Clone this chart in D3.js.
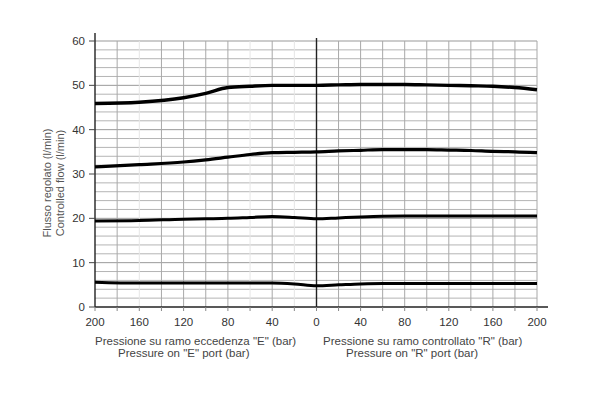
<!DOCTYPE html>
<html><head><meta charset="utf-8">
<script src="https://cdn.jsdelivr.net/npm/d3@7"></script>
<style>
html,body{margin:0;padding:0;background:#fff;}
svg text{font-family:"Liberation Sans",Arial,Helvetica,sans-serif;}
</style></head>
<body><svg id="c" width="600" height="398"></svg>
<script>
// ---- data ----
const leftP  = [200,160,120,100,80,60,40,20,0];
const rightP = [0,20,40,60,80,100,120,140,160,180,200];
const s50L = [45.9,46.2,47.2,48.2,49.5,49.8,50.0,50.0,50.0];
const s50R = [50.0,50.1,50.2,50.2,50.2,50.1,50.0,49.9,49.8,49.5,49.0];
const s35L = [31.6,32.1,32.7,33.2,33.8,34.4,34.8,34.9,35.0];
const s35R = [35.0,35.2,35.35,35.5,35.5,35.5,35.4,35.3,35.1,35.0,34.8];
const s20L = [19.4,19.5,19.8,19.9,20.0,20.2,20.4,20.2,19.9];
const s20R = [19.9,20.1,20.3,20.45,20.5,20.5,20.5,20.5,20.5,20.5,20.5];
const s5L  = [5.6,5.4,5.4,5.4,5.4,5.4,5.4,5.2,4.8];
const s5R  = [4.8,5.0,5.2,5.3,5.3,5.3,5.3,5.3,5.3,5.3,5.3];
const yTicks = [0,10,20,30,40,50,60];
const xTickLabelsL = [200,160,120,80,40,0];
const xTickLabelsR = [40,80,120,160,200];
const yTitle = ["Flusso regolato (l/min)","Controlled flow (l/min)"];
const xTitleL = ["Pressione su ramo eccedenza \"E\" (bar)","Pressure on \"E\" port (bar)"];
const xTitleR = ["Pressione su ramo controllato \"R\" (bar)","Pressure on \"R\" port (bar)"];

// ---- scales ----
const svg = d3.select("#c");
const X0 = 95, XM = 316.5, X1 = 537;
const xL = d3.scaleLinear().domain([200,0]).range([X0,XM]);
const xR = d3.scaleLinear().domain([0,200]).range([XM,X1]);
const y = d3.scaleLinear().domain([0,60]).range([307,41]);

// grid horizontal every 2
const g = svg.append("g");
d3.range(2,61,2).forEach(v=>{
  g.append("line").attr("x1",X0).attr("x2",X1).attr("y1",y(v)).attr("y2",y(v))
   .attr("stroke", v%10===0 ? "#999" : "#b4b4b4").attr("stroke-width",1);
});
// vertical grid
const faintL = [160,60,20];
d3.range(20,200,20).forEach(v=>{
  g.append("line").attr("x1",xL(v)).attr("x2",xL(v)).attr("y1",y(60)).attr("y2",y(0))
   .attr("stroke", faintL.includes(v) ? "#e6e6e6" : "#a8a8a8").attr("stroke-width",1);
  g.append("line").attr("x1",xR(v)).attr("x2",xR(v)).attr("y1",y(60)).attr("y2",y(0))
   .attr("stroke","#a8a8a8").attr("stroke-width",1);
});
g.append("line").attr("x1",X1).attr("x2",X1).attr("y1",y(60)).attr("y2",y(0))
  .attr("stroke","#a8a8a8").attr("stroke-width",1);

// axes
svg.append("line").attr("x1",X0).attr("x2",X0).attr("y1",33).attr("y2",y(0)).attr("stroke","#222").attr("stroke-width",1.4);
svg.append("line").attr("x1",XM).attr("x2",XM).attr("y1",38).attr("y2",y(0)).attr("stroke","#222").attr("stroke-width",1.4);
svg.append("line").attr("x1",X0).attr("x2",548).attr("y1",y(0)).attr("y2",y(0)).attr("stroke","#222").attr("stroke-width",1.4);

// y ticks
yTicks.forEach(v=>{
  svg.append("line").attr("x1",89).attr("x2",X0).attr("y1",y(v)).attr("y2",y(v)).attr("stroke","#444");
  svg.append("text").attr("x",85).attr("y",y(v)+4).attr("text-anchor","end")
    .attr("font-size",11.5).attr("fill","#333").text(v);
});
// x ticks
d3.range(0,201,20).forEach(v=>{
  svg.append("line").attr("x1",xL(v)).attr("x2",xL(v)).attr("y1",y(0)).attr("y2",y(0)+4).attr("stroke","#888");
  svg.append("line").attr("x1",xR(v)).attr("x2",xR(v)).attr("y1",y(0)).attr("y2",y(0)+4).attr("stroke","#888");
});
xTickLabelsL.forEach(v=>{
  svg.append("text").attr("x",xL(v)).attr("y",326).attr("text-anchor","middle")
    .attr("font-size",11.5).attr("fill","#333").text(v);
});
xTickLabelsR.forEach(v=>{
  svg.append("text").attr("x",xR(v)).attr("y",326).attr("text-anchor","middle")
    .attr("font-size",11.5).attr("fill","#333").text(v);
});

// titles
svg.append("text").attr("x",95).attr("y",345).attr("font-size",11.5).attr("fill","#444").text(xTitleL[0]);
svg.append("text").attr("x",118).attr("y",357).attr("font-size",11.5).attr("fill","#444").text(xTitleL[1]);
svg.append("text").attr("x",323).attr("y",345).attr("font-size",11.5).attr("fill","#444").text(xTitleR[0]);
svg.append("text").attr("x",346).attr("y",357).attr("font-size",11.5).attr("fill","#444").text(xTitleR[1]);
yTitle.forEach((t,i)=>{
  svg.append("text").attr("transform",`translate(${51+i*12.5},183) rotate(-90)`)
    .attr("text-anchor","middle").attr("font-size",11).attr("fill","#555").text(t);
});

// curves
const line = d3.line().curve(d3.curveMonotoneX);
function draw(sL,sR,w){
  const pts = leftP.map((p,i)=>[xL(p),y(sL[i])])
    .concat(rightP.slice(1).map((p,i)=>[xR(p),y(sR[i+1])]));
  svg.append("path").attr("d",line(pts)).attr("fill","none")
    .attr("stroke","#000").attr("stroke-width",w).attr("stroke-linejoin","round");
}
draw(s50L,s50R,3.4);
draw(s35L,s35R,3.2);
draw(s20L,s20R,3.0);
draw(s5L,s5R,3.0);
</script></body></html>
